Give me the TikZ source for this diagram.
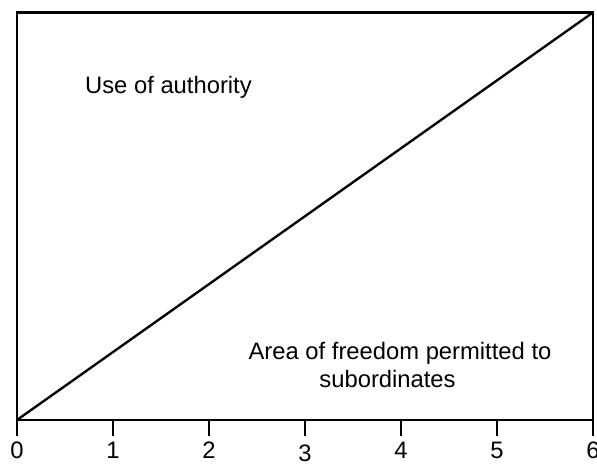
\documentclass[tikz,border=0pt]{standalone}
\usepackage{fontspec}
\setmainfont{Liberation Sans}
\usetikzlibrary{positioning}

\begin{document}
\begin{tikzpicture}[line width=0.7pt, font=\fontsize{7.05}{8.3}\selectfont]

    \useasboundingbox (-0.177, -0.458) rectangle (6.042, 4.375);

    \coordinate (origin) at (0, 0);
    \coordinate (corner) at (6, 4.245);
    \draw (origin) rectangle (corner);
    \draw (origin) -- (corner);
    \foreach \x/\dy in {0/0, 1/0, 2/0, 3/0.03, 4/0, 5/0, 6/0} {
      \draw (\x, 0) -- (\x, -0.167)
      node (tick\x) [below, inner sep=1.4pt, yshift=-\dy cm] {\x};
    }
    \node (authority) at (1.578, 3.46) {Use of authority};
    \node (freedom) [align=center] at (3.99, 0.573)
      {Area of freedom permitted to\\subordinates\hspace*{0.26cm}};

  \end{tikzpicture}
\end{document}
